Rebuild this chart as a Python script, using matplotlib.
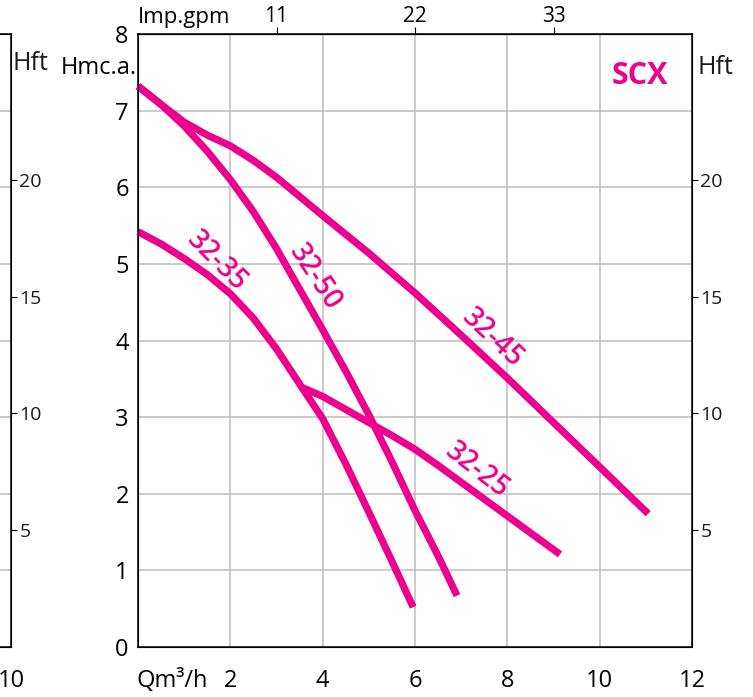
import matplotlib
matplotlib.use("Agg")
import matplotlib.pyplot as plt

plt.rcParams['font.family'] = ['Open Sans', 'DejaVu Sans']

# ---- data (Q in m3/h, H in m) ----
q_32_45 = [0, 0.5, 1.0, 1.5, 2.0, 2.5, 3.0, 3.5, 4.0, 5.0, 6.0, 7.0, 8.0, 9.0, 10.0, 11.05]
h_32_45 = [7.32, 7.08, 6.85, 6.68, 6.54, 6.35, 6.13, 5.88, 5.63, 5.14, 4.62, 4.07, 3.51, 2.93, 2.35, 1.74]

q_32_50 = [0, 0.5, 1.0, 1.5, 2.0, 2.5, 3.0, 3.5, 4.0, 4.5, 5.0, 5.5, 6.0, 6.5, 6.91]
h_32_50 = [7.32, 7.08, 6.80, 6.47, 6.10, 5.68, 5.20, 4.67, 4.14, 3.60, 3.03, 2.42, 1.78, 1.19, 0.67]

q_32_35 = [0, 0.5, 1.0, 1.5, 2.0, 2.5, 3.0, 3.58, 4.0, 4.5, 5.0, 5.5, 5.96]
h_32_35 = [5.42, 5.26, 5.07, 4.86, 4.61, 4.29, 3.89, 3.36, 2.98, 2.39, 1.76, 1.12, 0.52]

q_32_25 = [3.58, 4.0, 4.5, 5.0, 5.5, 6.0, 6.5, 7.0, 7.5, 8.0, 8.5, 9.14]
h_32_25 = [3.38, 3.27, 3.10, 2.93, 2.76, 2.58, 2.37, 2.15, 1.93, 1.71, 1.49, 1.21]

labels = ["32-45", "32-50", "32-35", "32-25"]
label_q = [7.67, 3.83, 1.71, 7.34]
label_h = [4.03, 4.83, 5.03, 2.31]
label_rot = [-43, -57, -45, -38]

x_ticks = [2, 4, 6, 8, 10, 12]
y_ticks = [0, 1, 2, 3, 4, 5, 6, 7, 8]
gpm_ticks = [11, 22, 33]
hft_ticks = [5, 10, 15, 20]

MAG = '#EC008C'
GRID = '#bdbdbd'
TXT = '#1a1a1a'
W, H = 753, 697

fig = plt.figure(figsize=(W / 100, H / 100), dpi=100)

def px_ax(l, t, r, b):
    return [l / W, 1 - b / H, (r - l) / W, (b - t) / H]

# ---- partial left chart (cut off) ----
axl = fig.add_axes(px_ax(11 - 554, 34, 11, 647))
axl.set_xlim(0, 10)
axl.set_ylim(0, 8)
axl.set_xticks([10])
axl.set_xticklabels(['10'], fontsize=17)
axl.tick_params(axis='x', length=0, pad=16)
axl.set_yticks(range(1, 8))
axl.tick_params(axis='y', length=0, labelleft=False)
axl.grid(axis='y', color=GRID, lw=1.1)
for s in axl.spines.values():
    s.set_linewidth(1.1)
axl2 = axl.twinx()
axl2.set_ylim(0, 8 / 0.3048)
axl2.set_yticks(hft_ticks)
axl2.set_yticklabels([str(v) for v in hft_ticks], fontsize=14, color=TXT)
axl2.tick_params(axis='y', length=4, width=0.8, pad=2)
fig.text(13 / W, 1 - 63 / H, 'Hft', fontsize=18, ha='left', va='center', color=TXT)

# ---- main chart ----
ax = fig.add_axes(px_ax(138, 34, 692, 647))
ax.set_xlim(0, 12)
ax.set_ylim(0, 8)
ax.set_xticks(range(2, 11, 2))
ax.set_yticks(range(1, 8))
ax.grid(True, color=GRID, lw=1.1)
ax.set_axisbelow(True)
ax.tick_params(length=0, labelleft=False, labelbottom=False)
for s in ax.spines.values():
    s.set_linewidth(1.1)

for q, h in [(q_32_45, h_32_45), (q_32_50, h_32_50), (q_32_35, h_32_35), (q_32_25, h_32_25)]:
    ax.plot(q, h, color=MAG, lw=5.2, solid_capstyle='butt', solid_joinstyle='round',
            clip_on=False, zorder=3)

for t, x, y, r in zip(labels, label_q, label_h, label_rot):
    ax.text(x, y, t, color=MAG, fontsize=20, fontweight='semibold', rotation=r,
            rotation_mode='anchor', ha='center', va='center', zorder=4)

ax.text(10.87, 7.45, 'SCX', color=MAG, fontsize=22, fontweight='bold', ha='center', va='center')

# y tick labels (left)
for v in y_ticks:
    ax.text(-0.2, v - 0.04, str(v), fontsize=17, ha='right', va='center', clip_on=False)
# x tick labels (bottom)
for v in x_ticks:
    ax.text(v, -0.44, str(v), fontsize=17, ha='center', va='center', clip_on=False)
fig.text(136 / W, 1 - 681 / H, 'Qm³/h', fontsize=17, ha='left', va='center')
fig.text(137 / W, 1 - 68 / H, 'Hmc.a.', fontsize=17, ha='right', va='center')

# top axis: Imp. gpm
GPM = 3.6662
sec = ax.secondary_xaxis('top', functions=(lambda q: q * GPM, lambda g: g / GPM))
sec.set_xticks(gpm_ticks)
sec.set_xticklabels([str(v) for v in gpm_ticks], fontsize=15)
sec.tick_params(length=5, width=0.8, pad=0)
fig.text(138 / W, 1 - 17 / H, 'Imp.gpm', fontsize=16, ha='left', va='center')

# right axis: Hft
ax2 = ax.twinx()
ax2.set_ylim(0, 8 / 0.3048)
ax2.set_yticks(hft_ticks)
ax2.set_yticklabels([str(v) for v in hft_ticks], fontsize=14, color=TXT)
ax2.tick_params(axis='y', length=4, width=0.8, pad=2)
fig.text(697 / W, 1 - 68 / H, 'Hft', fontsize=18, ha='left', va='center', color=TXT)

fig.savefig('out.png', dpi=100)
